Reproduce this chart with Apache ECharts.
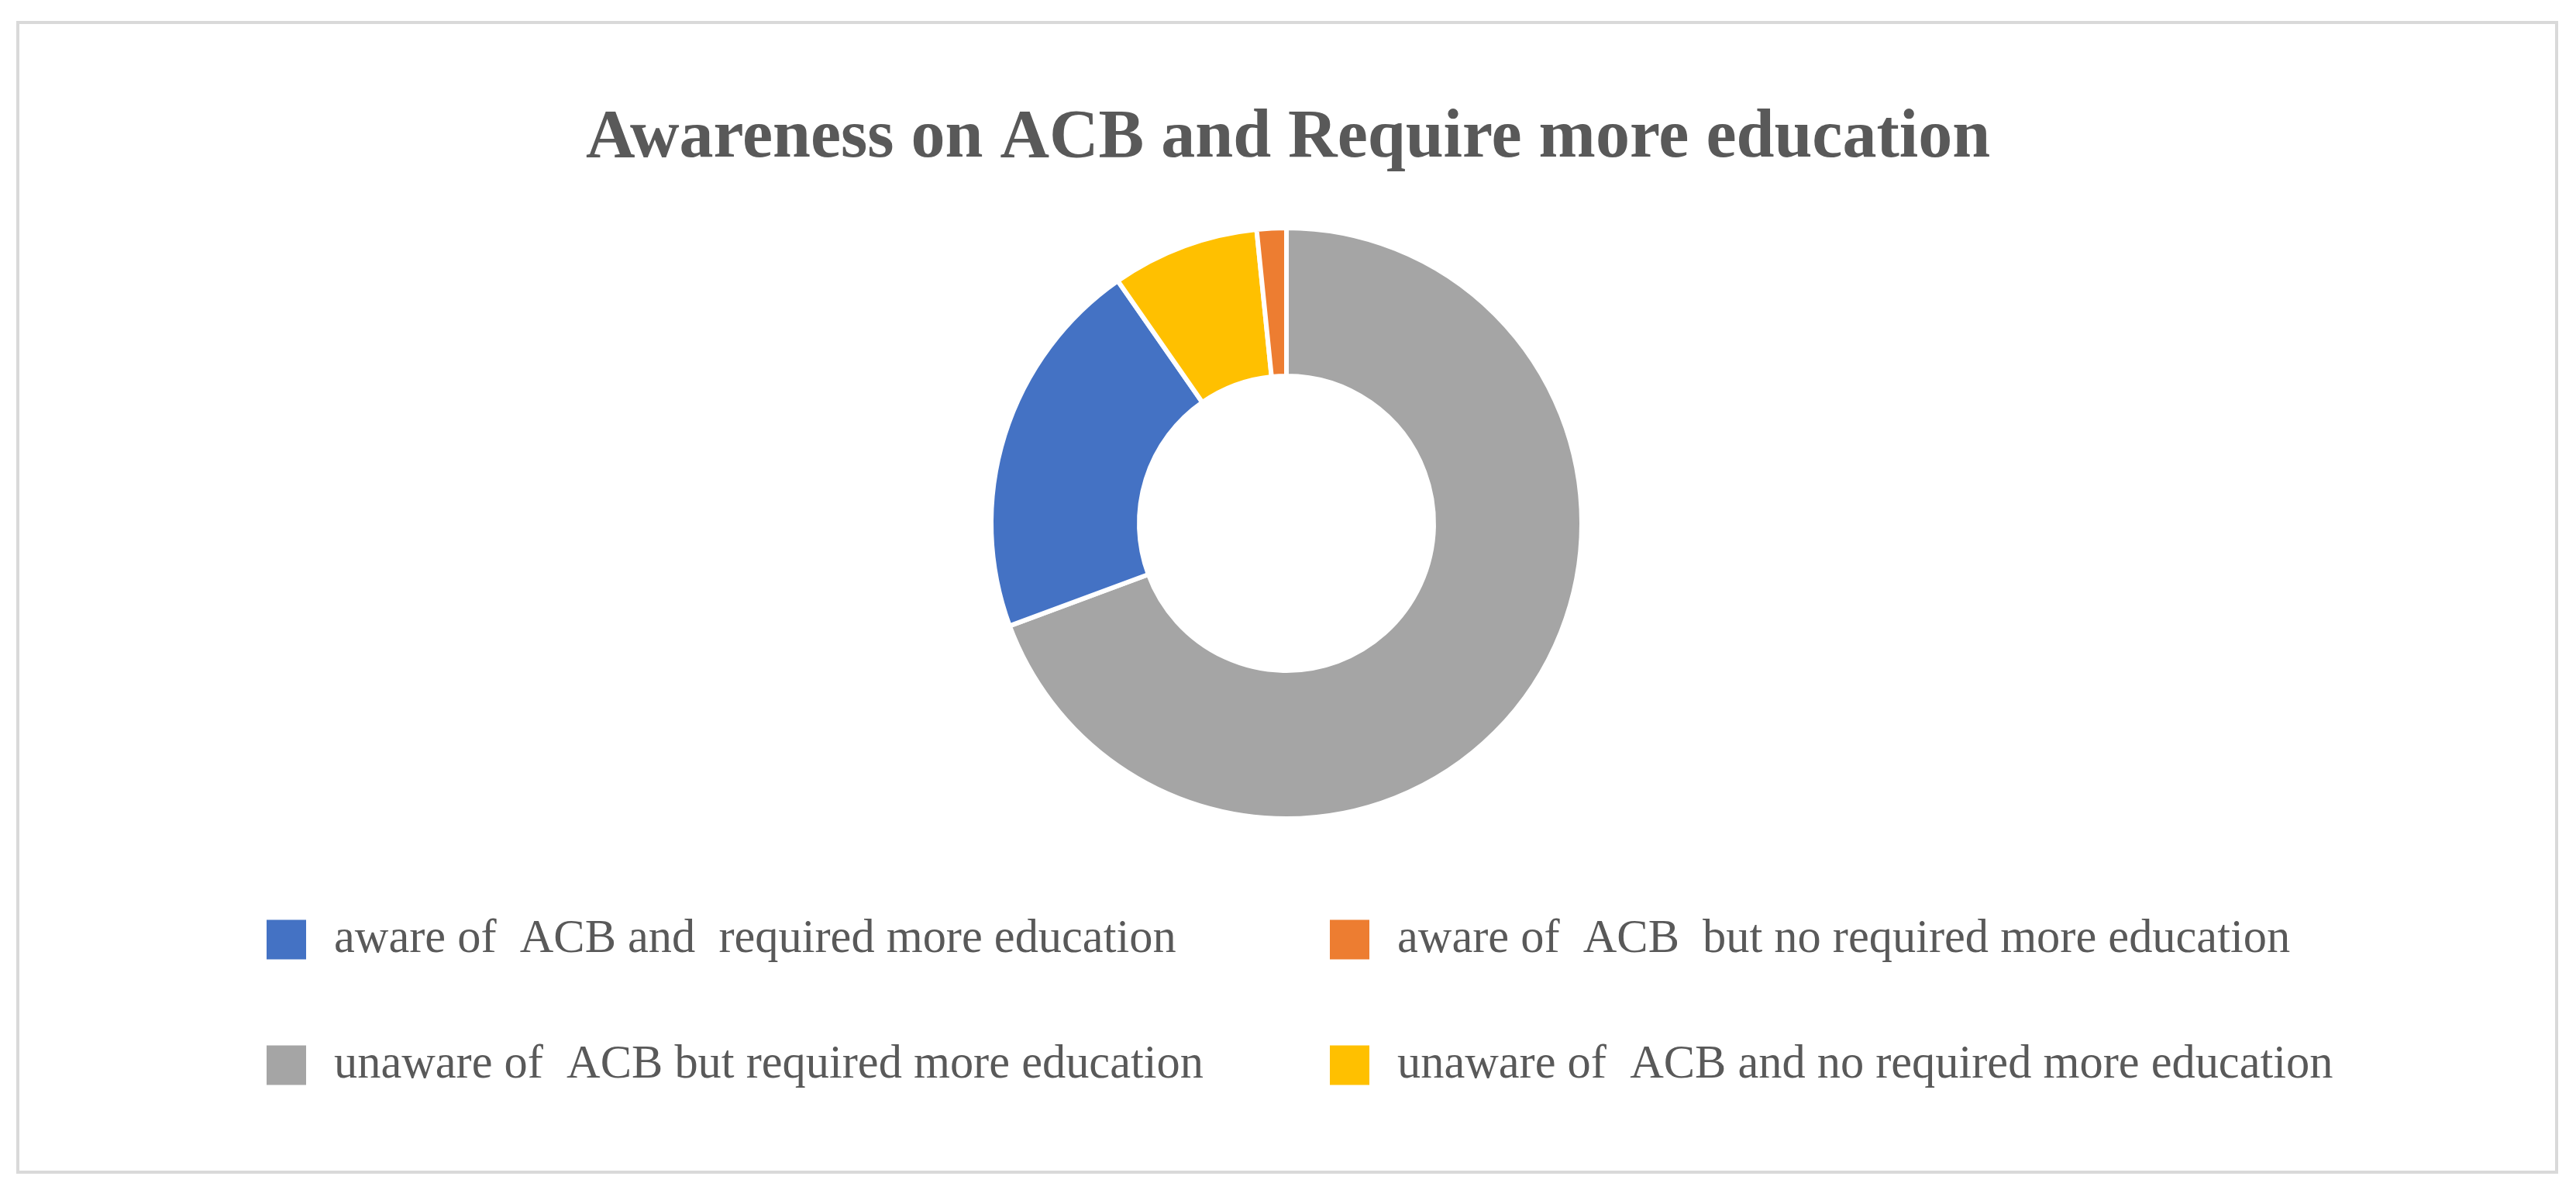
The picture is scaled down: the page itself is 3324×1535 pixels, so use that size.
<!DOCTYPE html>
<html>
<head>
<meta charset="utf-8">
<title>Awareness on ACB</title>
<script src="https://cdn.jsdelivr.net/npm/echarts@6/dist/echarts.min.js"></script>
<style>
  html, body { margin: 0; padding: 0; background: #fff; }
  #chart { width: 3324px; height: 1535px; }
</style>
</head>
<body>
<div id="chart"></div>
<script>
// slices in drawing order (clockwise from 12 o'clock)
const categories = [
  "unaware of  ACB but required more education",
  "aware of  ACB and  required more education",
  "unaware of  ACB and no required more education",
  "aware of  ACB  but no required more education",
];
const counts = [86, 26, 10, 2];
const colors = ["#a5a5a5", "#4472c4", "#ffc000", "#ed7d31"];

// legend columns, as laid out in the original
const legendLeft = [categories[1], categories[0]];
const legendRight = [categories[3], categories[2]];

const titleText = "Awareness on ACB and Require more education";

let chartDom = document.getElementById("chart");
let myChart = echarts.init(chartDom);

let legendText = {
  fontFamily: "'Liberation Serif', 'Times New Roman', serif",
  fontSize: 60.4,
  color: "#595959",
  padding: [0, 0, 0, 30],
};

let option = {
  animation: false,
  color: colors,
  title: {
    text: titleText,
    left: "center",
    top: 130,
    textStyle: {
      fontFamily: "'Liberation Serif', 'Times New Roman', serif",
      fontWeight: "bold",
      fontSize: 88,
      color: "#595959",
    },
  },
  legend: [
    {
      data: legendLeft,
      orient: "vertical",
      left: 337,
      top: 1177,
      itemWidth: 53,
      itemHeight: 53,
      itemGap: 102,
      icon: "rect",
      textStyle: legendText,
    },
    {
      data: legendRight,
      orient: "vertical",
      left: 1709,
      top: 1177,
      itemWidth: 53,
      itemHeight: 53,
      itemGap: 102,
      icon: "rect",
      textStyle: legendText,
    },
  ],
  graphic: [
    {
      type: "rect",
      shape: { x: 23, y: 29, width: 3276, height: 1483 },
      style: { fill: "none", stroke: "#d9d9d9", lineWidth: 4 },
      silent: true,
    },
  ],
  series: [
    {
      type: "pie",
      center: [1660, 675],
      radius: [190, 381],
      startAngle: 90,
      clockwise: true,
      avoidLabelOverlap: false,
      itemStyle: {
        borderColor: "#fff",
        borderWidth: 6,
      },
      label: { show: false },
      labelLine: { show: false },
      emphasis: { disabled: true },
      data: categories.map((name, i) => ({ name: name, value: counts[i] })),
    },
  ],
};

myChart.setOption(option);
</script>
</body>
</html>
